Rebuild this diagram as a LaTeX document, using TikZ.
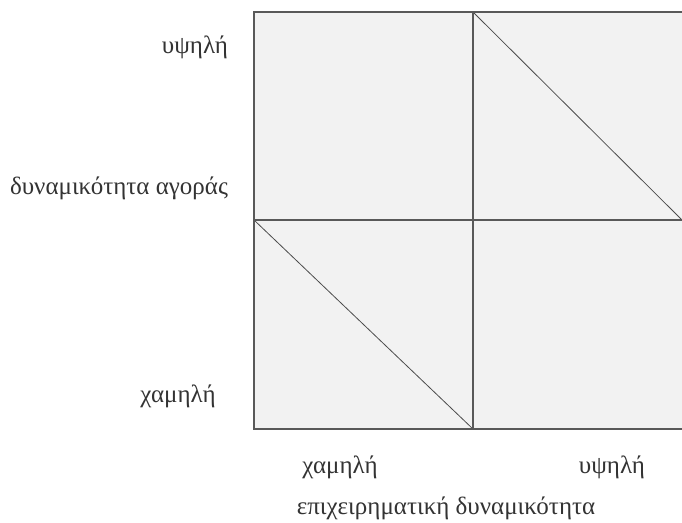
\documentclass[tikz,border=0pt]{standalone}
\usepackage{fontspec}
\setmainfont{Liberation Serif}
\begin{document}
\begin{tikzpicture}[x=1pt,y=-1pt,
  grid/.style={draw=black!65,line width=1.3pt},
  diag/.style={draw=black!70,line width=0.8pt},
  lbl/.style={font=\fontsize{25}{27}\selectfont,text=black!80,inner sep=0pt}]
\useasboundingbox (0,0) rectangle (682,522);
\coordinate (tl) at (254,12);
\coordinate (br) at (684,429);
\coordinate (tm) at (473,12);
\coordinate (bm) at (473,429);
\coordinate (ml) at (254,220);
\coordinate (mr) at (684,220);
\coordinate (rd) at (682,220);
\fill[black!5] (tl) rectangle (br);
\draw[diag] (tm) -- (rd);
\draw[diag] (ml) -- (bm);
\draw[grid] (tm) -- (bm);
\draw[grid] (ml) -- (mr);
\draw[grid] (tl) rectangle (br);
\node[lbl] (yh) at (195,47) {υψηλή};
\node[lbl] (da) at (119,188) {δυναμικότητα αγοράς};
\node[lbl] (xl) at (178,396) {χαμηλή};
\node[lbl] (xb) at (340,467) {χαμηλή};
\node[lbl] (yb) at (612,467) {υψηλή};
\node[lbl] (ed) at (446,508) {επιχειρηματική δυναμικότητα};
\end{tikzpicture}
\end{document}
